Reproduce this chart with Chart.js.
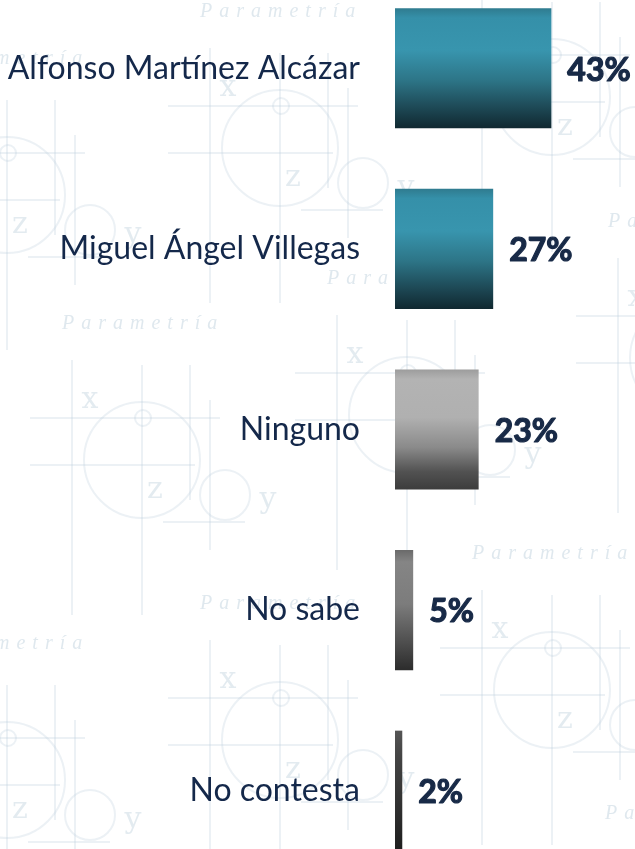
<!DOCTYPE html>
<html><head><meta charset="utf-8">
<script src="https://cdn.jsdelivr.net/npm/chart.js@4.4.1/dist/chart.umd.min.js"></script>
<style>
html,body{margin:0;padding:0;overflow:hidden;background:#fff;width:635px;height:849px}
#wrap{position:absolute;left:0;top:-22px;width:635px;height:903px}
</style></head><body>
<div id="wrap"><canvas id="c" width="635" height="903"></canvas></div>
<script>
const categories = ["Alfonso Martínez Alcázar", "Miguel Ángel Villegas", "Ninguno", "No sabe", "No contesta"];
const values = [43, 27, 23, 5, 2];
const valueLabels = ["43%", "27%", "23%", "5%", "2%"];

// styles (gradient stops per bar, top to bottom)
const tealStops = [[0,'#2f7b8f'],[0.08,'#3590a9'],[0.35,'#3895ae'],[0.6,'#2d7587'],[0.82,'#1e4a57'],[1,'#102830']];
const grayStops = [[0,'#9c9c9c'],[0.08,'#b3b3b3'],[0.4,'#b0b0b0'],[0.65,'#8a8a8a'],[0.85,'#525252'],[1,'#3c3c3c']];
const gray2Stops = [[0,'#6a6a6a'],[0.1,'#858585'],[0.45,'#7c7c7c'],[0.75,'#515151'],[1,'#2c2c2c']];
const gray3Stops = [[0,'#555555'],[0.2,'#454545'],[1,'#1e1e1e']];
const barStops = [tealStops, tealStops, grayStops, gray2Stops, gray3Stops];

const BAR_FRACTION = 0.665;

function barFill(ctx) {
  const chart = ctx.chart;
  if (!chart.chartArea || ctx.dataIndex === undefined) return '#3590a9';
  const ys = chart.scales.y;
  const c = ys.getPixelForValue(ctx.dataIndex);
  const h = ys.height / categories.length * BAR_FRACTION;
  const g = chart.ctx.createLinearGradient(0, c - h/2, 0, c + h/2);
  barStops[ctx.dataIndex].forEach(s => g.addColorStop(s[0], s[1]));
  return g;
}

// watermark decoration (background)
const motifs = [[228,88],[-45,135],[90,400],[355,355],[500,37],[228,680],[-45,720],[500,630],[636,298],[633,890]];
function drawMotif(ctx, ox, oy) {
  ctx.save();
  ctx.strokeStyle = 'rgba(185,205,218,0.28)';
  ctx.lineWidth = 2;
  const line = (x1,y1,x2,y2)=>{ctx.beginPath();ctx.moveTo(ox+x1,oy+y1);ctx.lineTo(ox+x2,oy+y2);ctx.stroke();};
  const circ = (x,y,r)=>{ctx.beginPath();ctx.arc(ox+x,oy+y,r,0,Math.PI*2);ctx.stroke();};
  line(-18,-40,-18,215);
  line(52,-35,52,215);
  line(100,-35,100,100);
  line(120,0,120,150);
  line(-60,18,130,18);
  line(-60,65,105,65);
  line(73,122,155,122);
  circ(52,60,58);
  circ(53,18,8);
  circ(135,95,25);
  ctx.fillStyle = 'rgba(185,205,218,0.4)';
  ctx.font = '30px "DejaVu Serif"';
  ctx.textAlign = 'center'; ctx.textBaseline = 'middle';
  ctx.fillText('x', ox, oy);
  ctx.fillText('z', ox+65, oy+90);
  ctx.fillText('y', ox+178, oy+100);
  ctx.font = 'italic 20px "Liberation Serif"';
  ctx.textAlign = 'left';
  ctx.letterSpacing = '7px';
  ctx.fillStyle = 'rgba(185,205,218,0.45)';
  ctx.fillText('Parametría', ox-28, oy-76);
  ctx.restore();
}
const watermark = {
  id: 'watermark',
  beforeDraw(chart) {
    const ctx = chart.ctx;
    ctx.save();
    ctx.fillStyle = '#ffffff';
    ctx.fillRect(0, 0, chart.width, chart.height);
    motifs.forEach(m => drawMotif(ctx, m[0], m[1] + 22));
    ctx.restore();
  }
};

const valueLabelPlugin = {
  id: 'valueLabels',
  afterDatasetsDraw(chart) {
    const ctx = chart.ctx;
    const meta = chart.getDatasetMeta(0);
    ctx.save();
    ctx.font = 'bold 32px Lato';
    ctx.fillStyle = '#182a47';
    ctx.strokeStyle = '#182a47';
    ctx.lineWidth = 1.2;
    ctx.lineJoin = 'round';
    ctx.textAlign = 'left';
    ctx.textBaseline = 'middle';
    meta.data.forEach((bar, i) => {
      ctx.fillText(valueLabels[i], bar.x + 16, bar.y + 2);
      ctx.strokeText(valueLabels[i], bar.x + 16, bar.y + 2);
    });
    ctx.restore();
  }
};

new Chart(document.getElementById('c'), {
  type: 'bar',
  data: {
    labels: categories,
    datasets: [{
      data: values,
      backgroundColor: barFill,
      borderWidth: 0,
      barPercentage: BAR_FRACTION,
      categoryPercentage: 1
    }]
  },
  options: {
    indexAxis: 'y',
    responsive: false,
    animation: false,
    layout: { padding: 0 },
    plugins: { legend: { display: false }, tooltip: { enabled: false } },
    scales: {
      x: { display: false, min: 0, max: 66 },
      y: {
        grid: { display: false, drawTicks: false },
        border: { display: false },
        ticks: { color: '#14284a', font: { family: 'Lato', size: 32 }, padding: 35 },
        afterFit(scale) { scale.width = 395; scale.paddingTop = 0; scale.paddingBottom = 0; }
      }
    }
  },
  plugins: [watermark, valueLabelPlugin]
});
</script>
</body></html>
